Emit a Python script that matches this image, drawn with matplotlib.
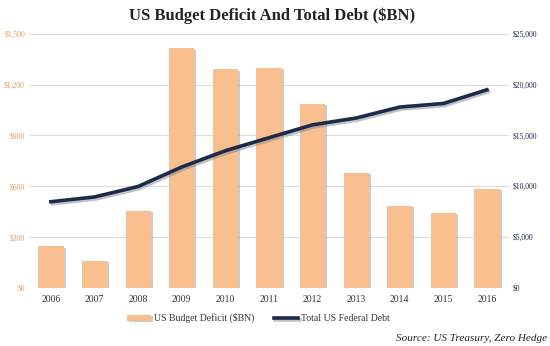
import matplotlib.pyplot as plt
import matplotlib.patheffects as pe
import numpy as np

# data ($BN)
years = ['2006', '2007', '2008', '2009', '2010', '2011', '2012', '2013', '2014', '2015', '2016']
deficit = [245, 160, 455, 1415, 1290, 1298, 1087, 680, 484, 442, 586]
debt = [8480, 8950, 9980, 11900, 13500, 14780, 16050, 16720, 17800, 18150, 19500]

left_ticks = [0, 300, 600, 900, 1200, 1500]
right_ticks = [0, 5000, 10000, 15000, 20000, 25000]

bar_color = '#F9BF8F'
line_color = '#1C2B4A'
serif = ['Liberation Serif', 'DejaVu Serif']

fig = plt.figure(figsize=(5.5, 3.46), dpi=100)
ax = fig.add_axes([0.053, 0.168, 0.872, 0.734])
ax2 = ax.twinx()

x = np.arange(len(years))
shadow = [pe.SimplePatchShadow(offset=(1.5, -1), shadow_rgbFace='#999999', alpha=0.5), pe.Normal()]
bars = ax.bar(x, deficit, width=0.58, color=bar_color, zorder=2,
              label='US Budget Deficit ($BN)')
for b in bars:
    b.set_path_effects(shadow)

ax2.plot(x, debt, color=line_color, lw=2.6, zorder=3, label='Total US Federal Debt',
         path_effects=[pe.SimpleLineShadow(offset=(1, -1.5), shadow_color='#888888', alpha=0.5), pe.Normal()])

ax.set_xlim(-0.5, len(years) - 0.5)
ax.set_ylim(0, 1500)
ax2.set_ylim(0, 25000)
ax.set_yticks(left_ticks)
ax.set_yticklabels(['$0', '$300', '$600', '$900', '$1,200', '$1,500'],
                   fontsize=5.5, color='#E39A5C', family=serif)
ax2.set_yticks(right_ticks)
ax2.set_yticklabels(['$0', '$5,000', '$10,000', '$15,000', '$20,000', '$25,000'],
                    fontsize=5.5, color='#1C2B4A', family=serif)
ax.set_xticks(x)
ax.set_xticklabels(years, fontsize=7, color='#333333', family=serif)

ax.grid(axis='y', color='#DDDDDD', lw=0.8, zorder=0)
ax.set_axisbelow(True)
for a in (ax, ax2):
    for s in ['top', 'right', 'left', 'bottom']:
        a.spines[s].set_visible(False)
    a.tick_params(length=0)
ax.tick_params(axis='y', pad=3)
ax2.tick_params(axis='y', pad=3)
ax.tick_params(axis='x', pad=5)

fig.text(0.495, 0.955, 'US Budget Deficit And Total Debt ($BN)', ha='center', va='center',
         fontsize=12, fontweight='bold', color='#222222', family=serif)

h1, l1 = ax.get_legend_handles_labels()
h2, l2 = ax2.get_legend_handles_labels()
leg = fig.legend(h1 + h2, l1 + l2, loc='center', bbox_to_anchor=(0.47, 0.08), ncol=2,
                 frameon=False, prop={'family': serif, 'size': 7}, handlelength=2.5,
                 handleheight=0.6, columnspacing=2.0, handletextpad=0.3)
for t in leg.get_texts():
    t.set_color('#333333')

fig.text(0.995, 0.022, 'Source: US Treasury, Zero Hedge', ha='right', va='center',
         fontsize=8, style='italic', color='#222222', family=serif)

plt.savefig('out.png', dpi=100)
